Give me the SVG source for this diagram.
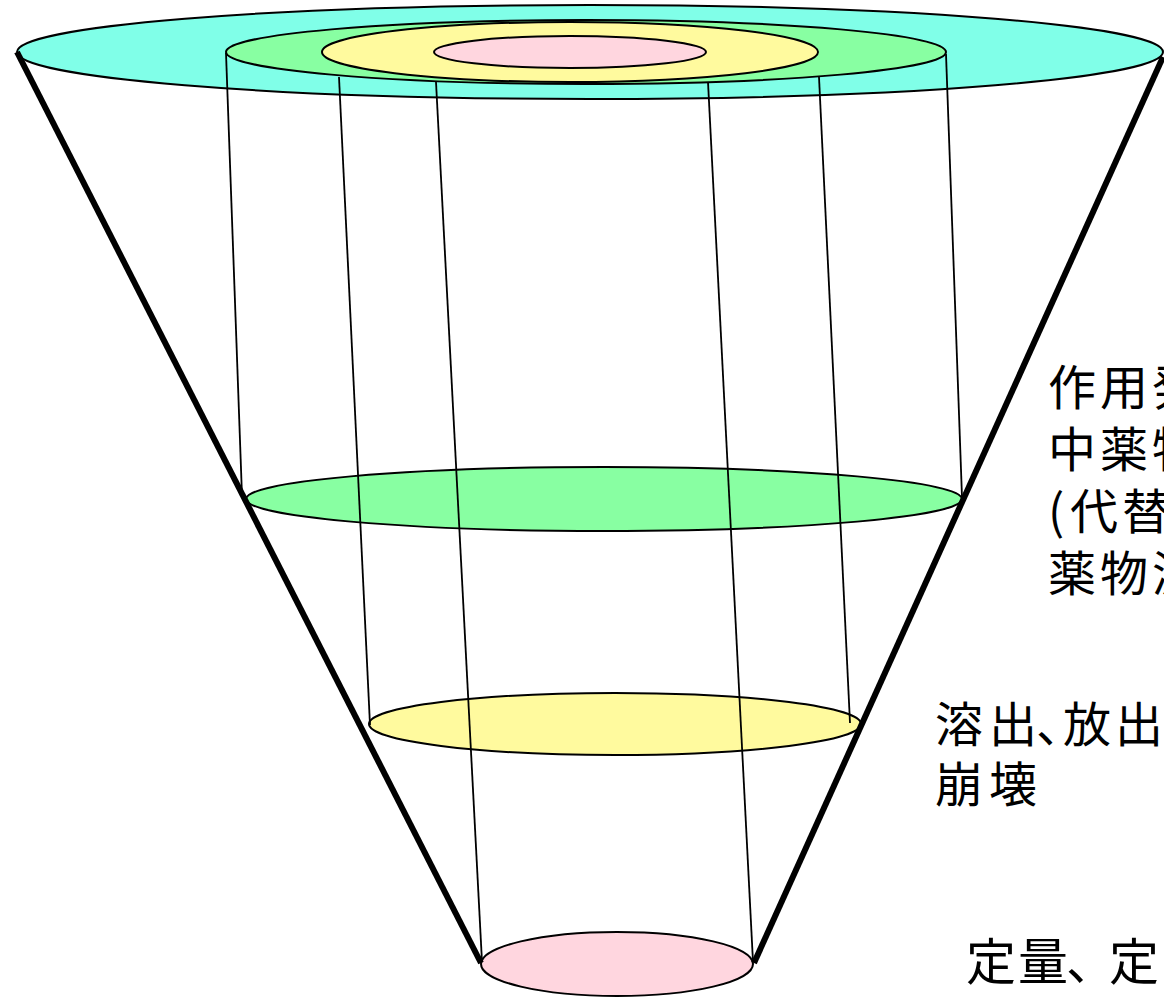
<svg xmlns="http://www.w3.org/2000/svg" width="1164" height="998" viewBox="0 0 1164 998">
<style>
.e{stroke:#000;stroke-width:2}
.cy{fill:#80FFE8}.gr{fill:#88FFA2}.ye{fill:#FFFA9E}.pk{fill:#FFD6DF}
.thin{stroke:#000;stroke-width:1.8;fill:none}
.thick{stroke:#000;stroke-width:6;fill:none;stroke-linecap:butt}
.t{font-family:"Noto Sans CJK JP","Noto Sans CJK SC",sans-serif;fill:#000}
</style>
<rect width="1164" height="998" fill="#fff"/>
<g id="top-layers">
<ellipse class="e cy" cx="590" cy="52" rx="573" ry="47"/>
<ellipse class="e gr" cx="586" cy="52" rx="360" ry="32"/>
<ellipse class="e ye" cx="570" cy="52" rx="248" ry="30"/>
<ellipse class="e pk" cx="570" cy="52" rx="136" ry="16"/>
</g>
<g id="level-green">
<ellipse class="e gr" cx="604" cy="499" rx="358" ry="32"/>
</g>
<g id="level-yellow">
<ellipse class="e ye" cx="615" cy="724" rx="246" ry="31"/>
</g>
<g id="level-pink">
<ellipse class="e pk" cx="617" cy="964" rx="136" ry="32"/>
</g>
<g id="connectors">
<line class="thin" x1="226" y1="53" x2="242" y2="496"/>
<line class="thin" x1="339" y1="77" x2="370" y2="725"/>
<line class="thin" x1="436" y1="82" x2="482" y2="962"/>
<line class="thin" x1="708" y1="82" x2="753" y2="962"/>
<line class="thin" x1="819" y1="77" x2="850" y2="723"/>
<line class="thin" x1="946" y1="54" x2="962" y2="497"/>
<line class="thick" x1="17" y1="52" x2="481" y2="963"/>
<line class="thick" x1="1163" y1="57" x2="754" y2="963"/>
</g>
<g id="label-green" class="t" font-size="48">
<text x="1048 1100 1152" y="405">作用発</text>
<text x="1048 1100 1152" y="467">中薬物</text>
<text x="1048 1070 1122" y="529">(代替</text>
<text x="1048 1100 1152" y="591">薬物濃</text>
</g>
<g id="label-yellow" class="t" font-size="48">
<text x="935 989 1036 1063 1115" y="742">溶出、放出</text>
<text x="935 989" y="802">崩壊</text>
</g>
<g id="label-pink" class="t" font-size="50">
<text x="966 1018 1066 1109" y="980">定量、定</text>
</g>
</svg>
